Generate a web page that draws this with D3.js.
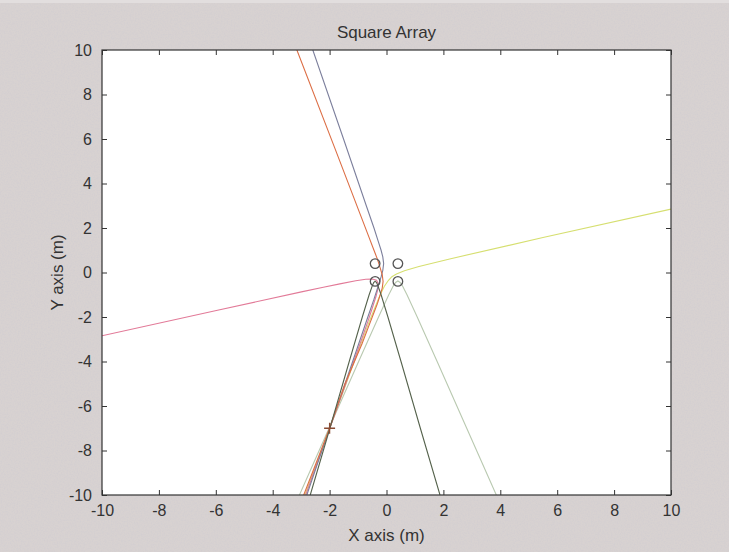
<!DOCTYPE html>
<html>
<head>
<meta charset="utf-8">
<script src="https://cdn.jsdelivr.net/npm/d3@7"></script>
<style>
  html, body { margin: 0; padding: 0; background: #d5cfce; }
  svg { display: block; }
  text { font-family: "Liberation Sans", Arial, Helvetica, sans-serif; fill: #333; }
</style>
</head>
<body>
<svg id="chart" width="729" height="552"></svg>
<script>
// Sensor positions of the square array (m)
const sensorX = [-0.4, 0.4, 0.4, -0.4];
const sensorY = [0.4, 0.4, -0.4, -0.4];

// Estimated source location (m)
const sourceX = -2;
const sourceY = -7;

// Hyperbolic TDOA curves, one per sensor pair, as [x, y] points (m)
const hyp12 = [[-2.59,10],[-1.51,6],[-0.71,3],[-0.44,2],[-0.29,1.4],[-0.19,1.0],[-0.13,0.7],[-0.10,0.4],
               [-0.13,0.1],[-0.19,-0.2],[-0.29,-0.6],[-0.44,-1.2],[-0.71,-2.2],[-1.51,-5.2],[-2.00,-7],[-2.80,-10]];
const hyp34 = [[-3.15,10],[-1.82,5.6],[-0.92,2.6],[-0.62,1.6],[-0.44,1.0],[-0.32,0.6],[-0.22,0.2],[-0.15,-0.1],
               [-0.12,-0.4],[-0.15,-0.7],[-0.22,-1.0],[-0.32,-1.4],[-0.44,-1.8],[-0.62,-2.4],[-0.86,-3.2],
               [-1.46,-5],[-2.00,-7],[-2.91,-10]];
const hyp14 = [[-2.68,-10],[-1.99,-7],[-1.31,-4],[-0.85,-2],[-0.61,-1],[-0.50,-0.6],[-0.45,-0.45],[-0.40,-0.39],
               [-0.35,-0.45],[-0.30,-0.6],[-0.19,-1],[0.05,-2],[0.51,-4],[1.19,-7],[1.88,-10]];
const hyp23 = [[-3.06,-10],[-2.02,-7],[-0.98,-4],[-0.28,-2],[0.08,-1],[0.24,-0.6],[0.32,-0.45],[0.40,-0.38],
               [0.48,-0.45],[0.56,-0.6],[0.72,-1],[1.08,-2],[1.78,-4],[2.82,-7],[3.86,-10]];
const hyp13 = [[10.0,2.85],[5.50,1.57],[2.22,0.61],[1.14,0.27],[0.63,0.08],[0.35,-0.07],[0.19,-0.19],[0.07,-0.35],
               [-0.08,-0.63],[-0.27,-1.14],[-0.61,-2.22],[-1.25,-4.41],[-2.00,-7.00],[-2.87,-10]];
const hyp24 = [[-10,-2.84],[-5.94,-1.70],[-2.99,-0.87],[-2.22,-0.66],[-1.64,-0.51],[-1.08,-0.37],[-0.73,-0.30],
               [-0.50,-0.29],[-0.35,-0.35],[-0.29,-0.50],[-0.30,-0.73],[-0.37,-1.08],[-0.51,-1.64],[-0.66,-2.22],
               [-0.87,-2.99],[-1.99,-6.99],[-2.84,-10]];

const curves = [hyp23, hyp13, hyp24, hyp12, hyp34, hyp14];
const curveColors = ["#b9c9b0", "#d6df70", "#e27a98", "#7c7f9c", "#dc6e45", "#55624c"];

// Axis ticks
const xTicks = [-10, -8, -6, -4, -2, 0, 2, 4, 6, 8, 10];
const yTicks = [-10, -8, -6, -4, -2, 0, 2, 4, 6, 8, 10];

const titleText = "Square Array";
const xLabelText = "X axis (m)";
const yLabelText = "Y axis (m)";

const svg = d3.select("#chart");
const W = 729, H = 552;
const plotLeft = 102, plotRight = 671, plotTop = 50, plotBottom = 495;

// Grainy grey figure background
const defs = svg.append("defs");
const grain = defs.append("filter").attr("id", "grain").attr("x", 0).attr("y", 0).attr("width", "100%").attr("height", "100%");
grain.append("feTurbulence").attr("type", "fractalNoise").attr("baseFrequency", 0.7).attr("numOctaves", 2).attr("seed", 3);
grain.append("feColorMatrix").attr("type", "matrix")
  .attr("values", "0 0 0 0 0.62  0 0 0 0 0.60  0 0 0 0 0.64  1.6 0 0 0 -0.55");
defs.append("clipPath").attr("id", "plotClip")
  .append("rect").attr("x", plotLeft).attr("y", plotTop).attr("width", plotRight - plotLeft).attr("height", plotBottom - plotTop);

svg.append("rect").attr("width", W).attr("height", H).attr("fill", "#d8d2d1");
svg.append("rect").attr("width", W).attr("height", H).attr("filter", "url(#grain)").attr("opacity", 0.6);
svg.append("rect").attr("width", W).attr("height", 3).attr("fill", "#e2dede");

const x = d3.scaleLinear().domain([-10, 10]).range([plotLeft, plotRight]);
const y = d3.scaleLinear().domain([-10, 10]).range([plotBottom, plotTop]);

// Plot area
svg.append("rect").attr("x", plotLeft).attr("y", plotTop).attr("width", plotRight - plotLeft)
  .attr("height", plotBottom - plotTop).attr("fill", "#ffffff");

// Curves
const line = d3.line().x(d => x(d[0])).y(d => y(d[1]));
const plot = svg.append("g").attr("clip-path", "url(#plotClip)");
plot.selectAll("path.curve").data(curves).enter().append("path")
  .attr("class", "curve")
  .attr("d", line)
  .attr("fill", "none")
  .attr("stroke", (d, i) => curveColors[i])
  .attr("stroke-width", 1.1);

// Sensors
plot.selectAll("circle.sensor").data(sensorX).enter().append("circle")
  .attr("class", "sensor")
  .attr("cx", d => x(d))
  .attr("cy", (d, i) => y(sensorY[i]))
  .attr("r", 4.8)
  .attr("fill", "none")
  .attr("stroke", "#555")
  .attr("stroke-width", 1.3);

// Source marker (+)
const sx = x(sourceX), sy = y(sourceY);
plot.append("path")
  .attr("d", `M${sx - 5.5},${sy}H${sx + 5.5}M${sx},${sy - 5.5}V${sy + 5.5}`)
  .attr("stroke", "#8a4b33")
  .attr("stroke-width", 1.3)
  .attr("fill", "none");

// Axes with inward ticks on all four sides
const tickLen = 5;
const fmt = d => String(d);
const axisStyle = g => {
  g.select(".domain").remove();
  g.selectAll(".tick line").attr("stroke", "#333");
  g.selectAll(".tick text").attr("fill", "#333").style("font-size", "16px")
    .style("font-family", '"Liberation Sans", Arial, sans-serif');
};
svg.append("g").attr("transform", `translate(0,${plotBottom})`)
  .call(d3.axisBottom(x).tickValues(xTicks).tickSizeInner(-tickLen).tickSizeOuter(0).tickPadding(10).tickFormat(fmt))
  .call(axisStyle);
svg.append("g").attr("transform", `translate(0,${plotTop})`)
  .call(d3.axisTop(x).tickValues(xTicks).tickSizeInner(-tickLen).tickSizeOuter(0).tickFormat(""))
  .call(axisStyle);
svg.append("g").attr("transform", `translate(${plotLeft},0)`)
  .call(d3.axisLeft(y).tickValues(yTicks).tickSizeInner(-tickLen).tickSizeOuter(0).tickPadding(10).tickFormat(fmt))
  .call(axisStyle);
svg.append("g").attr("transform", `translate(${plotRight},0)`)
  .call(d3.axisRight(y).tickValues(yTicks).tickSizeInner(-tickLen).tickSizeOuter(0).tickFormat(""))
  .call(axisStyle);

// Box
svg.append("rect").attr("x", plotLeft).attr("y", plotTop).attr("width", plotRight - plotLeft)
  .attr("height", plotBottom - plotTop)
  .attr("fill", "none").attr("stroke", "#333").attr("stroke-width", 1.2);

// Title and axis labels
svg.append("text").attr("x", (plotLeft + plotRight) / 2).attr("y", 38).attr("text-anchor", "middle")
  .style("font-size", "17px").text(titleText);
svg.append("text").attr("x", (plotLeft + plotRight) / 2).attr("y", 541).attr("text-anchor", "middle")
  .style("font-size", "17px").text(xLabelText);
svg.append("text").attr("transform", `translate(63,${(plotTop + plotBottom) / 2}) rotate(-90)`)
  .attr("text-anchor", "middle")
  .style("font-size", "17px").text(yLabelText);
</script>
</body>
</html>
